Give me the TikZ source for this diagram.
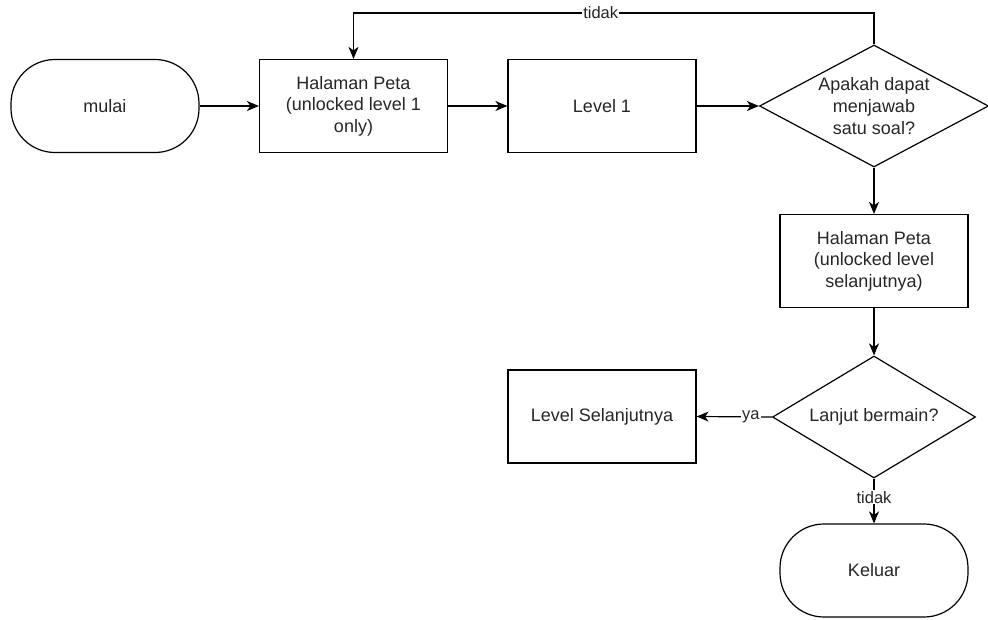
\documentclass[tikz,border=0pt]{standalone}
\usepackage{fontspec}
\setmainfont{Liberation Sans}
\usetikzlibrary{shapes.geometric,arrows.meta}
\begin{document}
\begin{tikzpicture}[x=1pt,y=-1pt,
  every node/.style={font=\fontsize{18}{21.6}\selectfont, text=black!85},
  procbox/.style={draw, line width=1.2pt, minimum width=188pt, minimum height=93pt, inner sep=0pt, align=center},
  termbox/.style={draw, line width=1.2pt, rounded corners=44pt, minimum width=188pt, minimum height=93pt, inner sep=0pt, align=center},
  decbox/.style={draw, line width=1.2pt, diamond, inner sep=0pt},
  dtext/.style={align=center, inner sep=0pt},
  conn/.style={line width=1.2pt, -{Stealth[length=12pt,width=10pt,inset=3.5pt]}},
  elabel/.style={fill=white, inner sep=1pt, font=\fontsize{16.5}{19.8}\selectfont}
]
\useasboundingbox (0,0) rectangle (988,619);

\node[termbox] (mulai) at (105,106) {mulai};
\node[procbox] (peta1) at (353.5,106) {Halaman Peta\\(unlocked level 1\\only)};
\node[procbox] (lvl1) at (602,106) {Level 1};
\node[decbox, minimum width=229pt, minimum height=122pt] (d1) at (874,106) {};
\node[dtext] at (d1) {Apakah dapat\\menjawab\\satu soal?};
\node[procbox] (peta2) at (874,261) {Halaman Peta\\(unlocked level\\selanjutnya)};
\node[decbox, minimum width=203pt, minimum height=122pt] (d2) at (874,417) {};
\node[dtext] at (d2) {Lanjut bermain?};
\node[procbox] (lvlnext) at (602,416.5) {Level Selanjutnya};
\node[termbox] (keluar) at (874,570.5) {Keluar};

\coordinate (c1) at (874,13);
\coordinate (c2) at (353.5,13);

\draw[conn] (mulai) -- (peta1);
\draw[conn] (peta1) -- (lvl1);
\draw[conn] (lvl1) -- (d1.west);
\draw[conn] (d1.north) -- (c1) -- node[elabel, pos=0.525] {tidak} (c2) -- (peta1.north);
\draw[conn] (d1.south) -- (peta2.north);
\draw[conn] (peta2.south) -- (d2.north);
\draw[conn] (d2.west) -- node[elabel, pos=0.28] {ya} (lvlnext.east);
\draw[conn] (d2.south) -- node[elabel, pos=0.42] {tidak} (keluar.north);
\end{tikzpicture}
\end{document}
